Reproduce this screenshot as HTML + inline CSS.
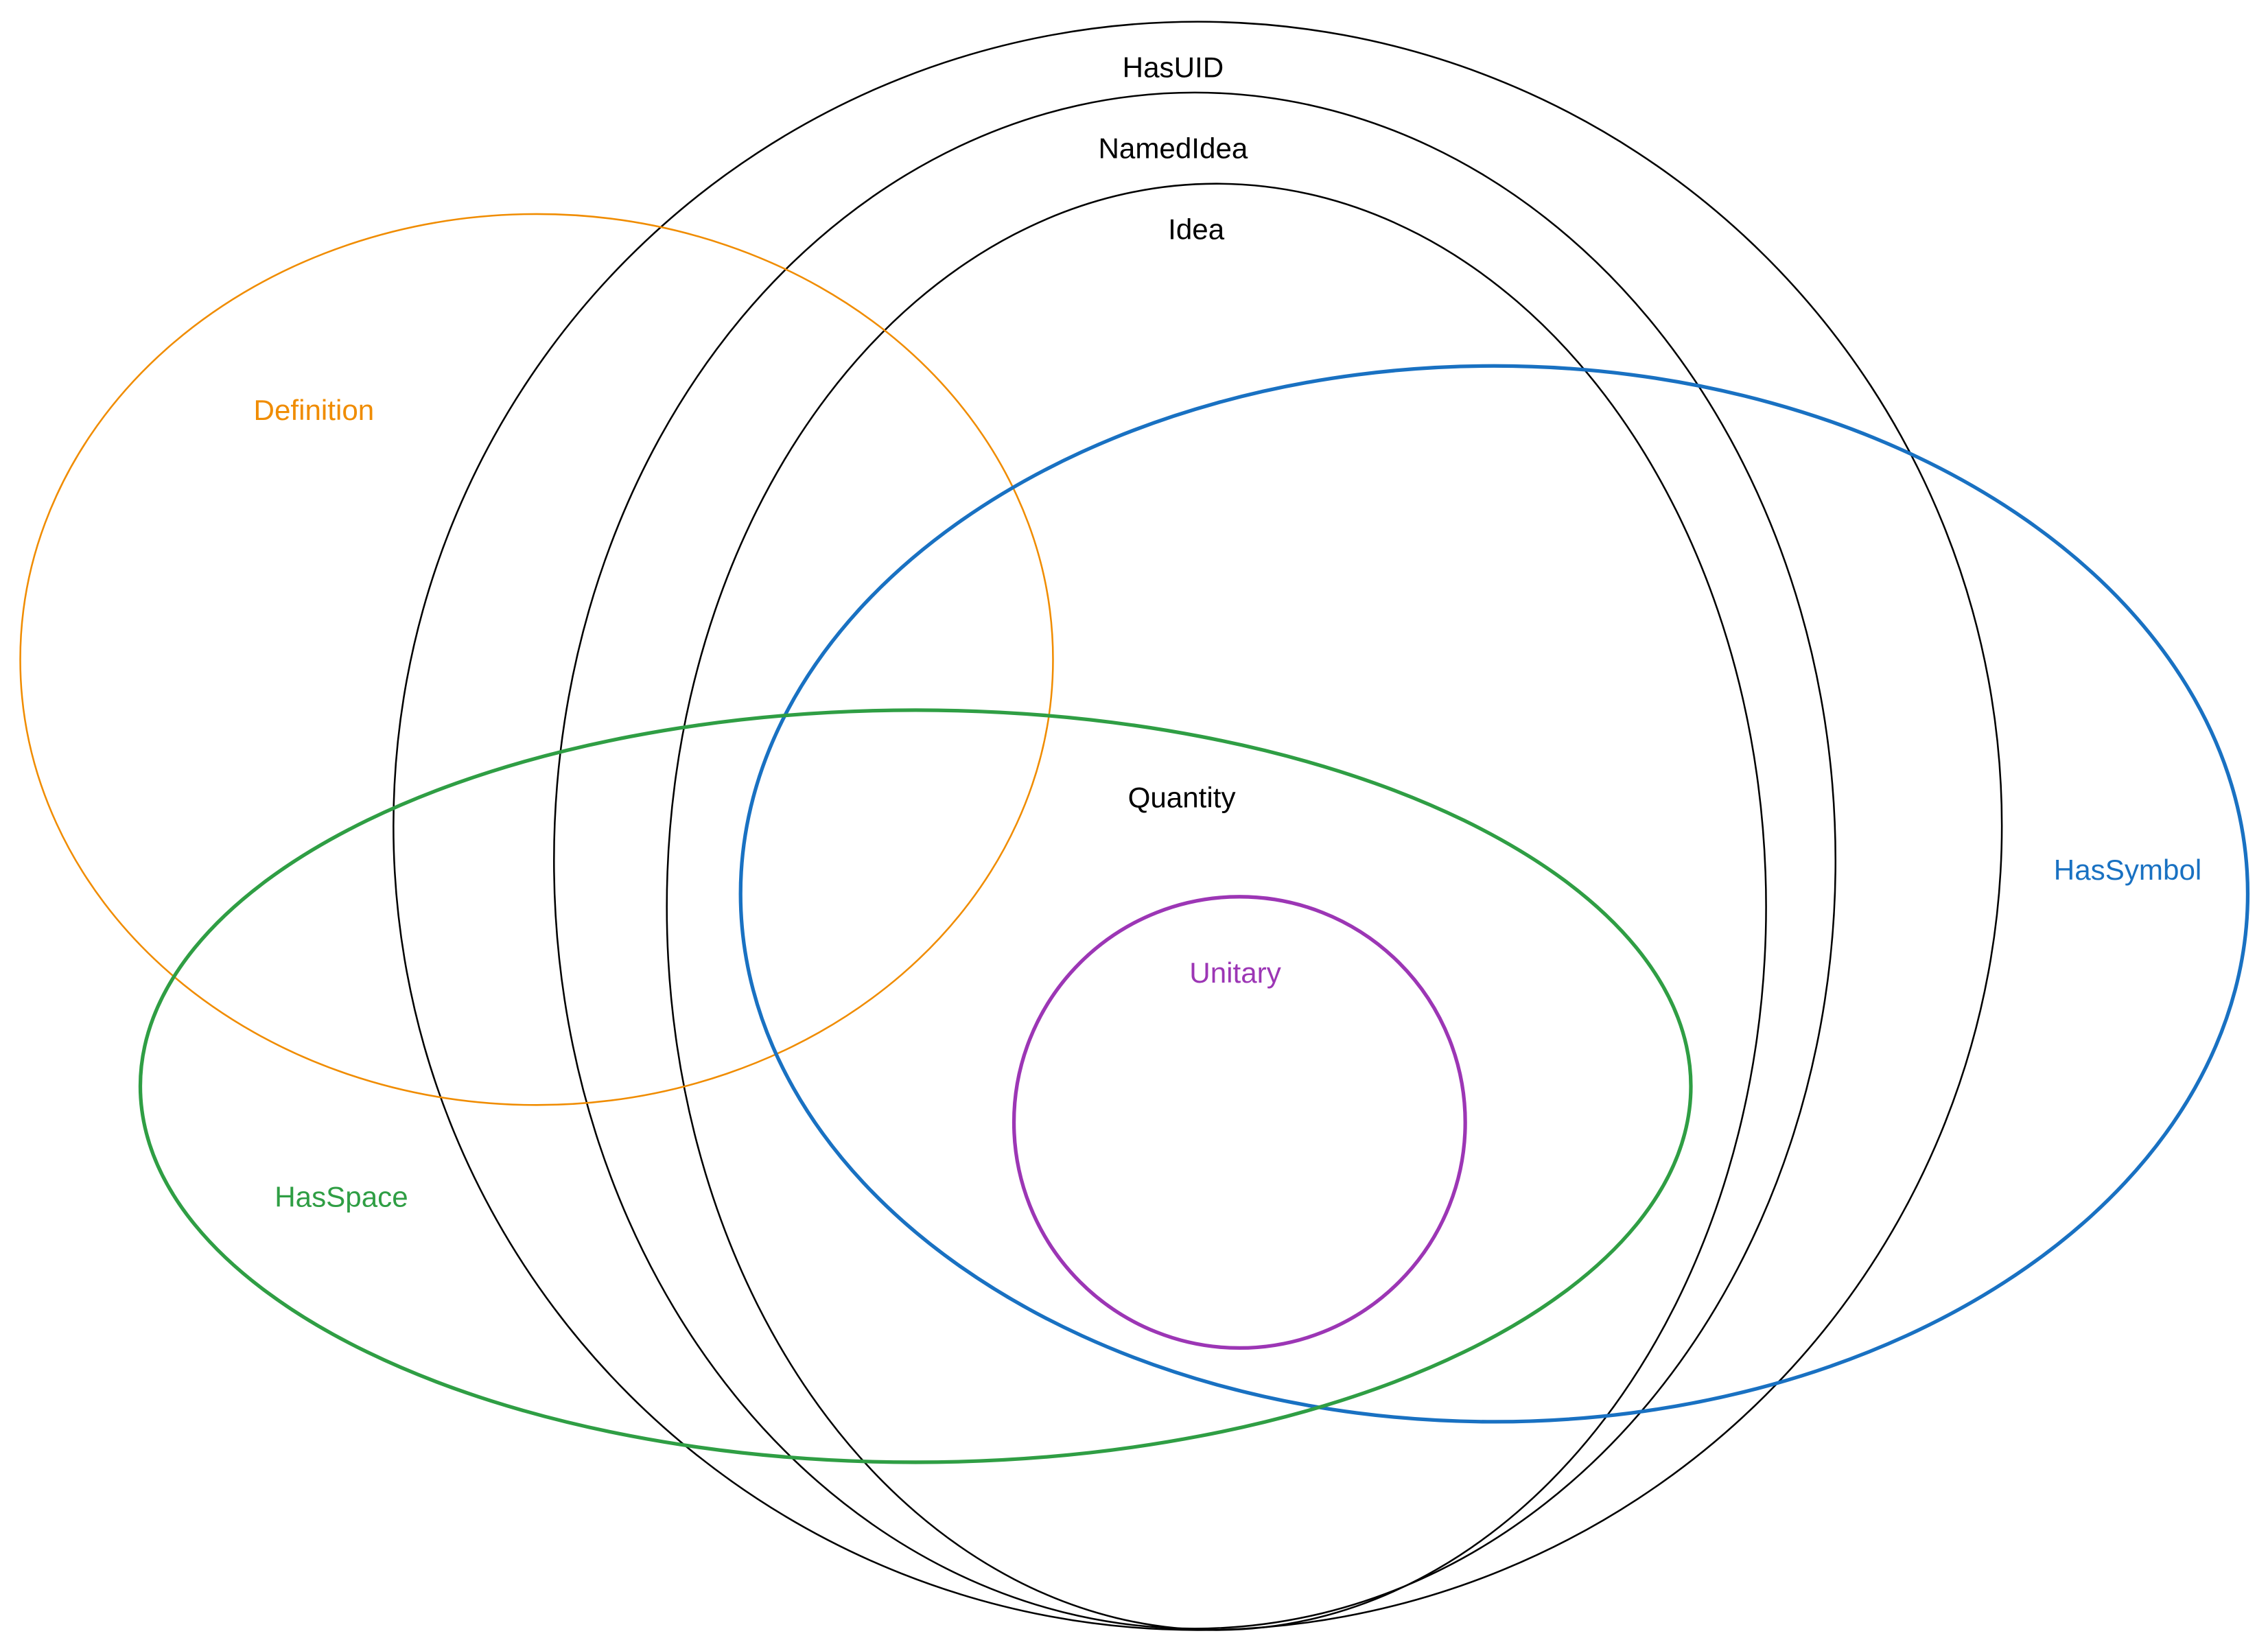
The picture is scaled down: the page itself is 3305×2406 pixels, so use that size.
<!DOCTYPE html>
<html><head><meta charset="utf-8"><style>
html,body{margin:0;padding:0;background:#fff;}
svg{display:block;}
text{font-family:"Liberation Sans",sans-serif;font-size:20px;text-anchor:middle;dominant-baseline:middle;}
</style></head><body>
<svg width="3305" height="2406" viewBox="0 0 1568 1141.5" xmlns="http://www.w3.org/2000/svg">
<rect width="1568" height="1141.5" fill="#fff"/>
<g fill="none">
<ellipse cx="828" cy="571" rx="556" ry="556" stroke="#000" stroke-width="1.2"/>
<ellipse cx="826" cy="595" rx="443" ry="531" stroke="#000" stroke-width="1.2"/>
<ellipse cx="841" cy="627" rx="380" ry="500" stroke="#000" stroke-width="1.2"/>
<ellipse cx="371" cy="456" rx="357" ry="308" stroke="#f08c00" stroke-width="1.2"/>
<ellipse cx="1033" cy="618" rx="521" ry="365" stroke="#1971c2" stroke-width="2.5"/>
<ellipse cx="633" cy="751" rx="536" ry="260" stroke="#2f9e44" stroke-width="2.5"/>
<circle cx="857" cy="776" r="156" stroke="#9c36b5" stroke-width="2.5"/>
</g>
<text x="811" y="48" fill="#000">HasUID</text>
<text x="811" y="104" fill="#000">NamedIdea</text>
<text x="827" y="160" fill="#000">Idea</text>
<text x="217" y="285" fill="#f08c00">Definition</text>
<text x="817" y="553" fill="#000">Quantity</text>
<text x="1471" y="603" fill="#1971c2">HasSymbol</text>
<text x="854" y="674" fill="#9c36b5">Unitary</text>
<text x="236" y="829" fill="#2f9e44">HasSpace</text>
</svg>
</body></html>
